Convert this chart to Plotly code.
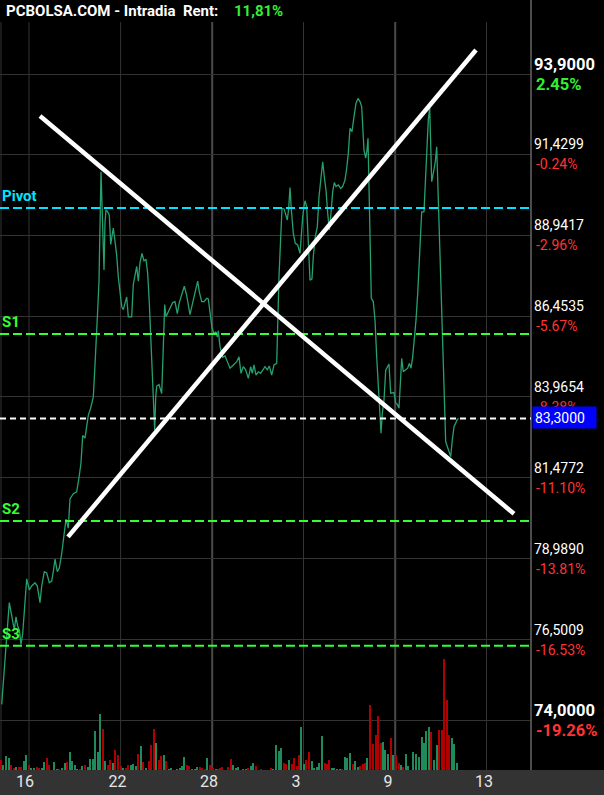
import plotly.graph_objects as go

# ---------------- DATA ----------------
title_text = "PCBOLSA.COM - Intradia  Rent:"
rent_text = "11,81%"

# intraday price path (bar index, price)
bar_x = [1.7, 3.3, 5, 6.7, 9.3, 11, 12.7, 14.3, 16, 17.7, 19.3, 21, 22.7, 25, 26.7, 29.3, 31.7, 35, 37.3, 40,
         41.7, 44.3, 46.7, 49.3, 51.7, 53.3, 55, 57.3, 59.3, 61.7, 64, 66, 68.3, 70, 73.3, 76.7, 79.3, 81, 82.7, 85,
         86.7, 88.3, 90.7, 93.3, 95, 96.7, 97.7, 99, 100, 101, 102, 103, 104, 105, 106, 107.7, 109.3, 110.7, 112, 113.3,
         115, 116.7, 118.3, 120, 121.7, 123.3, 125, 126.7, 128.3, 131.7, 133.3, 135, 136.7, 138.3, 140, 142, 144, 146, 147.7, 149.3,
         151, 152.3, 153.3, 154.7, 155.7, 156.7, 159, 161.7, 162.7, 163.7, 164.7, 166, 168.3, 170.7, 172.7, 175, 177.3, 179.3, 181.7, 184.3,
         186.7, 188.3, 190, 192.7, 195, 197.7, 199.3, 201.7, 204, 206.7, 208.3, 210, 212, 214, 216, 217.3, 218.3, 220, 222.7, 225,
         227.7, 230, 233.3, 236.7, 239, 241, 243.3, 245.7, 248.3, 250.7, 252.3, 254, 256, 258.3, 260.7, 263.3, 265, 267.3, 269.3, 271.7,
         274, 276.7, 277.7, 279, 280, 281, 282, 284, 286, 287.3, 288.7, 290, 291.3, 293.3, 295.3, 297.7, 300, 301.3, 302.7, 304,
         305, 306.7, 308.3, 310, 312, 313.3, 315.3, 317.3, 319, 320.7, 322.7, 324.3, 326, 327.7, 329.3, 331, 332.7, 334.3, 336, 338.3,
         340.7, 342.7, 345, 346.7, 348.3, 350, 352, 354, 356, 358, 360, 361.7, 362.7, 364, 365.7, 367, 368, 369, 370, 371.3,
         373.3, 375, 376.7, 378.3, 380, 381, 382.3, 384, 385.7, 387.3, 389, 390.7, 392.3, 394, 395.7, 397.3, 399, 400, 401.7, 403.3,
         405.7, 407.7, 409.3, 411, 412.7, 414.3, 416, 417.7, 419.3, 420.7, 421.7, 424, 425.3, 426.7, 428.3, 429.7, 430.7, 431.7, 432.7, 434,
         435.3, 436.7, 438, 439.3, 440.7, 442, 443.3, 444.3, 445.7, 447.3, 449, 450.7, 452.3, 454, 455.7, 457.3, 458.7]
close = [74.51, 75.23, 76.12, 76.58, 77.64, 77.35, 77.0, 76.8, 77.2, 76.92, 76.8, 76.35, 76.69, 77.69, 78.37, 78.03, 78.15, 78.25, 78.15, 77.64,
         78.15, 78.59, 78.55, 78.25, 78.3, 78.59, 78.98, 78.59, 78.7, 79.15, 79.7, 80.21, 79.93, 80.83, 80.99, 81.05, 81.55, 81.94, 82.78, 82.7,
         83.06, 83.4, 83.63, 83.96, 84.96, 85.86, 86.64, 87.53, 89.22, 90.89, 89.89, 88.89, 87.87, 89.33, 89.72, 89.66, 89.56, 88.66, 88.89, 89.16,
         88.76, 88.32, 87.66, 87.09, 86.75, 86.65, 86.87, 87.04, 86.43, 86.43, 87.43, 87.76, 87.98, 87.53, 88.1, 88.38, 88.15, 88.2, 87.76, 86.87,
         85.63, 84.63, 83.73, 82.95, 83.96, 84.3, 84.35, 84.07, 84.96, 85.97, 86.81, 86.43, 86.59, 86.75, 86.87, 86.9, 86.53, 86.87, 87.14, 87.37,
         87.09, 86.75, 86.5, 86.87, 87.14, 87.53, 87.2, 86.9, 86.9, 87.0, 86.98, 86.53, 86.09, 85.91, 85.97, 85.81, 86.0, 85.52, 85.19, 85.23,
         85.02, 84.85, 84.95, 85.05, 85.2, 84.69, 84.9, 84.8, 84.54, 84.9, 84.69, 84.95, 84.64, 84.74, 84.69, 84.8, 84.9, 84.8, 84.92, 84.64,
         84.95, 85.0, 86.54, 87.67, 88.38, 89.1, 89.77, 89.75, 89.56, 89.41, 89.77, 90.41, 89.75, 89.0, 88.69, 88.64, 88.38, 89.1, 89.51, 89.82,
         90.0, 89.82, 88.9, 87.56, 87.6, 88.28, 88.9, 89.2, 90.13, 90.74, 91.2, 90.74, 90.33, 89.62, 89.1, 89.62, 90.28, 90.56, 90.44, 90.49,
         90.38, 90.44, 90.64, 91.0, 91.46, 92.23, 92.13, 92.59, 93.0, 93.15, 93.05, 92.89, 92.18, 91.56, 91.31, 91.56, 91.92, 90.64, 88.59, 87.0,
         86.9, 86.33, 85.2, 84.28, 83.56, 82.85, 83.46, 83.87, 84.79, 84.9, 84.98, 84.08, 84.08, 84.1, 83.77, 83.74, 83.62, 84.28, 85.15, 84.74,
         84.79, 84.85, 85.0, 84.85, 85.2, 85.72, 86.33, 87.15, 88.18, 88.9, 89.66, 89.66, 90.54, 91.66, 92.49, 92.85, 91.87, 90.59, 90.74, 90.95,
         91.2, 91.66, 90.33, 89.0, 87.67, 86.33, 84.69, 83.46, 82.59, 82.44, 82.28, 82.13, 82.64, 83.05, 83.16, 83.28, 83.3]

# volume bars (bar index, volume, direction g=up / d=down)
vol_x = [1.0, 3.3, 6.0, 9.0, 11.3, 14.0, 16.3, 19.0, 21.3, 24.0, 26.3, 28.7, 31.0, 34.0, 37.3, 39.3, 42.0, 44.3, 47.0, 49.3,
         54.3, 57.0, 59.3, 62.0, 65.0, 67.0, 70.0, 72.3, 75.0, 77.3, 80.0, 82.3, 85.0, 87.7, 90.0, 92.7, 95.3, 98.0, 100.3, 103.3,
         105.3, 108.0, 110.3, 113.0, 115.3, 118.0, 121.0, 123.3, 126.0, 128.3, 131.0, 133.3, 136.0, 138.3, 141.0, 143.3, 146.0, 149.0, 151.3, 154.0,
         156.3, 159.3, 161.3, 164.0, 166.3, 169.0, 171.3, 177.0, 179.7, 182.0, 184.3, 187.0, 189.3, 192.3, 194.7, 197.3, 199.7, 202.3, 204.7, 207.3,
         210.3, 212.7, 215.7, 217.7, 220.3, 222.3, 227.7,
         230.7, 233.3, 235.7, 238.3, 243.3, 245.7, 248.3, 250.7, 253.3, 255.7, 261.0, 271.3, 273.3, 276.3, 278.7, 281.3, 283.7, 286.3, 289.3, 291.7,
         294.0, 296.7, 299.3, 301.3, 304.0, 306.3, 309.3, 311.7, 314.3, 317.3, 319.3, 322.3, 324.7, 327.0, 329.3, 332.3, 334.3, 337.3, 339.7, 342.3,
         345.3, 347.3, 350.3, 352.7, 355.3, 357.7, 360.3, 362.7, 365.3, 367.3, 370.3, 373.3, 375.7, 378.3, 380.7, 383.3, 385.3, 388.0, 390.7, 393.3,
         395.7, 398.7, 401.3, 403.3, 406.3, 408.3, 413.3, 416.3, 418.7, 421.7, 423.7, 426.3, 429.3, 431.3, 434.3, 436.7, 439.3, 441.7, 444.3, 446.7,
         449.3, 451.7, 454.3, 457.3]
volume = [10, 5, 14, 12, 5, 2, 3, 3, 3, 9, 15, 5, 2, 2, 3, 2, 2, 8, 12, 5,
          8, 1, 1, 2, 7, 8, 18, 9, 5, 1, 1, 4, 5, 3, 11, 11, 39, 18, 56, 41,
          9, 5, 10, 7, 20, 15, 4, 2, 2, 5, 5, 6, 4, 16, 24, 8, 2, 9, 25, 41,
          27, 10, 14, 15, 9, 1, 2, 1, 2, 4, 13, 5, 4, 1, 1, 3, 3, 2, 1, 12,
          5, 2, 1, 1, 2, 3, 3,
          11, 5, 2, 3, 1, 1, 2, 4, 7, 4, 1, 2, 1, 25, 19, 22, 7, 6, 10, 6,
          12, 4, 15, 43, 6, 10, 18, 9, 2, 3, 7, 34, 7, 6, 10, 2, 2, 1, 1, 1,
          13, 12, 17, 6, 9, 3, 4, 6, 7, 12, 65, 26, 35, 54, 27, 28, 20, 16, 32, 15,
          15, 7, 5, 3, 16, 4, 18, 16, 13, 33, 27, 39, 43, 38, 10, 25, 40, 40, 111, 70,
          35, 32, 26, 7]
vol_dir = list("dgggd" "dgddg" "gdggd" "dggdd" "ggdgg" "dgggg" "dgdgg" "ggggd" "gddgd" "ddgdd"
               "gggdg" "dgddd" "gddgd" "ggggg" "gddgg" "gdddg" "ddgdd" "dd"
               "dgggg" "gdggd" "ddggg" "gddgd" "dddgg" "ddggg" "ggddd" "ggggd" "gggdg" "gdddg"
               "ddddd" "gggdg" "ddgdg" "ggggg" "gggdg" "gdddd" "dggg")

# right-axis price levels
level_prices = [93.9, 91.4299, 88.9417, 86.4535, 83.9654, 81.4772, 78.9890, 76.5009, 74.0]
level_labels = ["93,9000", "91,4299", "88,9417", "86,4535", "83,9654", "81,4772", "78,9890", "76,5009", "74,0000"]
level_pcts = ["2.45%", "-0.24%", "-2.96%", "-5.67%", "-8.38%", "-11.10%", "-13.81%", "-16.53%", "-19.26%"]

last_price = 83.30
last_label = "83,3000"

pivot_names = ["Pivot", "S1", "S2", "S3"]
pivot_values = [89.78, 85.90, 80.15, 76.31]

day_labels = ["16", "22", "28", "3", "9", "13"]
day_label_pos = [25, 117.5, 209, 296, 388, 484]
day_bounds = [29, 120.6, 212.2, 303.5, 395.2, 486.5]
week_bounds = [212.2, 395.2]

trend_lines = [((40, 92.61), (514, 80.37)), ((68, 79.66), (476, 94.64))]

# ---------------- STYLE ----------------
FONT = "Roboto"
BG = "#000000"
GRID = "#333333"
LINE_C = "#26a06e"
UP_C = "#1f8a5c"
DN_C = "#b00000"
RED_T = "#ff3333"
GREEN_T = "#33ee33"
CYAN = "#00e5ff"
SGREEN = "#33ff33"

W, H = 604, 795
ML, MR, MT, MB = 0, 73, 22, 25
PW, PH = W - ML - MR, H - MT - MB

fig = go.Figure()

fig.add_trace(go.Bar(
    x=vol_x, y=volume, yaxis="y2", width=1.2,
    marker=dict(color=[UP_C if d == "g" else DN_C for d in vol_dir], line=dict(width=0)),
    hoverinfo="skip", showlegend=False))

fig.add_trace(go.Scatter(
    x=bar_x, y=close, mode="lines", line=dict(color=LINE_C, width=1.3),
    hoverinfo="skip", showlegend=False))

shapes = []
# bottom axis band
shapes.append(dict(type="rect", xref="paper", yref="paper", x0=0, x1=W / PW, y0=-MB / PH, y1=0,
                   fillcolor="#333333", line=dict(width=0), layer="below"))
# vertical gridlines
for b in day_bounds:
    major = b in week_bounds
    shapes.append(dict(type="line", xref="x", yref="paper", x0=b, x1=b, y0=0, y1=1,
                       line=dict(color="#4a4a4a" if major else GRID, width=2 if major else 1), layer="below"))
# left frame line
shapes.append(dict(type="line", xref="x", yref="paper", x0=1, x1=1, y0=0, y1=1,
                   line=dict(color=GRID, width=1), layer="below"))
# right axis line
shapes.append(dict(type="line", xref="paper", yref="paper", x0=1, x1=1, y0=0, y1=1 + MT / PH,
                   line=dict(color="#666666", width=1.5), layer="above"))
# pivot / support dashed lines
for name, v in zip(pivot_names, pivot_values):
    shapes.append(dict(type="line", xref="paper", yref="y", x0=0, x1=1, y0=v, y1=v,
                       line=dict(color=CYAN if name == "Pivot" else SGREEN, width=2, dash="9px,4px"),
                       layer="above"))
# last price dashed line
shapes.append(dict(type="line", xref="paper", yref="y", x0=0, x1=1, y0=last_price, y1=last_price,
                   line=dict(color="#ffffff", width=2, dash="6px,4px"), layer="above"))
# trend lines
for (x0, y0), (x1, y1) in trend_lines:
    shapes.append(dict(type="line", xref="x", yref="y", x0=x0, y0=y0, x1=x1, y1=y1,
                       line=dict(color="#ffffff", width=4.5), layer="above"))

ann = []
# title
ann.append(dict(xref="paper", yref="paper", x=0, y=1, xanchor="left", yanchor="middle",
                xshift=4, yshift=MT / 2, showarrow=False,
                text="<b>" + title_text + "</b>", font=dict(family=FONT, size=15, color="#ffffff")))
ann.append(dict(xref="paper", yref="paper", x=0, y=1, xanchor="left", yanchor="middle",
                xshift=232, yshift=MT / 2, showarrow=False,
                text="<b>" + rent_text + "</b>", font=dict(family=FONT, size=15, color=GREEN_T)))
# right-axis labels
n = len(level_prices)
for i, (p, lab, pct) in enumerate(zip(level_prices, level_labels, level_pcts)):
    edge = i == 0 or i == n - 1
    size = 16.5 if edge else 14
    lab_t = "<b>" + lab + "</b>" if edge else lab
    pct_t = "<b>" + pct + "</b>" if edge else pct
    pct_c = GREEN_T if not pct.startswith("-") else RED_T
    ann.append(dict(xref="paper", yref="y", x=1, y=p, xanchor="left", yanchor="middle",
                    xshift=1, yshift=10, showarrow=False, text=lab_t,
                    font=dict(family=FONT, size=size, color="#ffffff")))
    ann.append(dict(xref="paper", yref="y", x=1, y=p, xanchor="left", yanchor="middle",
                    xshift=3, yshift=-10, showarrow=False, text=pct_t,
                    font=dict(family=FONT, size=size, color=pct_c)))
# last price box
ann.append(dict(xref="paper", yref="y", x=1, y=last_price, xanchor="left", yanchor="middle",
                xshift=1, yshift=1, showarrow=False, text=last_label, bgcolor="#0000ff",
                width=59, height=17, borderpad=2, align="left",
                font=dict(family=FONT, size=14, color="#ffffff")))
# pivot labels
for name, v in zip(pivot_names, pivot_values):
    ann.append(dict(xref="paper", yref="y", x=0, y=v, xanchor="left", yanchor="bottom",
                    xshift=0, yshift=1, showarrow=False, text="<b>" + name + "</b>",
                    font=dict(family=FONT, size=15, color=CYAN if name == "Pivot" else SGREEN)))

fig.update_layout(
    width=W, height=H,
    margin=dict(l=ML, r=MR, t=MT, b=MB, pad=0),
    paper_bgcolor=BG, plot_bgcolor=BG,
    shapes=shapes, annotations=ann,
    bargap=0,
    hovermode=False,
    xaxis=dict(range=[0, PW], tickvals=day_label_pos, ticktext=day_labels,
               showgrid=False, zeroline=False, showline=False, ticks="",
               tickfont=dict(family=FONT, size=16, color="#e6e6e6"), fixedrange=True),
    yaxis=dict(range=[72.49, 95.50], tickvals=level_prices, showticklabels=False,
               showgrid=True, gridcolor=GRID, gridwidth=1, zeroline=False, ticks="", side="right"),
    yaxis2=dict(range=[0, PH], overlaying="y", visible=False, showgrid=False),
    showlegend=False,
)

fig.write_html("out.html",
               config={"displayModeBar": False},
               post_script="document.body.style.margin='0';document.body.style.background='#000';")
